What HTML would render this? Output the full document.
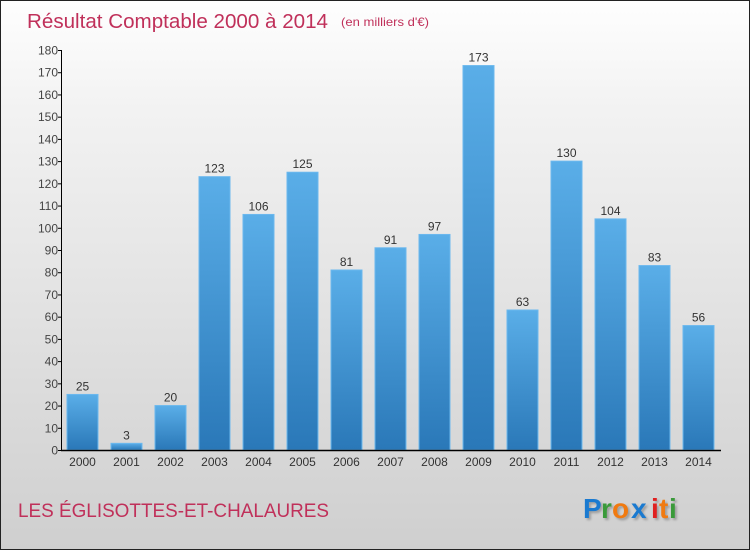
<!DOCTYPE html>
<html><head><meta charset="utf-8"><style>
html,body{margin:0;padding:0;}
body{width:750px;height:550px;overflow:hidden;}
#wrap{position:relative;width:748px;height:548px;border:1px solid #222;background:linear-gradient(#fefefe,#f2f2f2 20%,#cfcfcf);font-family:"Liberation Sans",sans-serif;}
</style></head><body>
<div id="wrap">
<svg id="chart" width="748" height="548" style="position:absolute;left:0;top:0">
<text x="26" y="27" font-size="20" fill="#c0305a" textLength="301" lengthAdjust="spacingAndGlyphs">Résultat Comptable 2000 à 2014</text>
<text x="340" y="25" font-size="12" fill="#c0305a" textLength="88" lengthAdjust="spacingAndGlyphs">(en milliers d'€)</text>
<text x="17" y="516" font-size="19" fill="#c0305a" textLength="311" lengthAdjust="spacingAndGlyphs">LES ÉGLISOTTES-ET-CHALAURES</text>
<g font-size="28" font-family="'Liberation Sans',sans-serif" font-weight="bold" style="filter:drop-shadow(2px 2px 1px rgba(0,0,0,0.25))">
<text x="582" y="517" fill="#1a7ad0">P</text><text x="600" y="517" fill="#3a9a3a">r</text><text x="611" y="517" fill="#f07a10">o</text><text x="630" y="517" fill="#1a7ad0">x</text><text x="650" y="517" fill="#e02020">i</text><text x="658" y="517" fill="#f07a10">t</text><text x="668" y="517" fill="#3a9a3a">i</text>
</g>
<defs><linearGradient id="bg" x1="0" y1="0" x2="0" y2="1"><stop offset="0" stop-color="#5aaee8"/><stop offset="1" stop-color="#2a78b8"/></linearGradient></defs>
<g id="bars"></g><g id="axes"></g>
</svg>
</div>
<script>
const years=["2000","2001","2002","2003","2004","2005","2006","2007","2008","2009","2010","2011","2012","2013","2014"];
const values=[25,3,20,123,106,125,81,91,97,173,63,130,104,83,56];
const yTicks=[0,10,20,30,40,50,60,70,80,90,100,110,120,130,140,150,160,170,180];
const NS="http://www.w3.org/2000/svg";
const y0=449,pxPer=400/180,x0=81.5,step=44,bw=31;
const yS=v=>y0-v*pxPer, xS=i=>x0+i*step;
const bars=document.getElementById('bars'),axes=document.getElementById('axes');
function mk(tag,attrs,parent){const e=document.createElementNS(NS,tag);for(const k in attrs)e.setAttribute(k,attrs[k]);parent.appendChild(e);return e;}
values.forEach((v,i)=>{
const r=mk('rect',{x:xS(i)-bw/2,y:yS(v),width:bw,height:y0-yS(v),fill:'url(#bg)',stroke:'#6bb8ee','stroke-width':1},bars);


const t=mk('text',{x:xS(i),y:yS(v)-4,'text-anchor':'middle','font-size':12,fill:'#333'},bars);
t.textContent=v;


const xl=mk('text',{x:xS(i),y:y0+16,'text-anchor':'middle','font-size':12,fill:'#333'},axes);
xl.textContent=years[i];


});
const ya=mk('line',{x1:60.5,y1:yS(180),x2:60.5,y2:y0,stroke:'#000'},axes);


const xa=mk('line',{x1:60,y1:y0+0.5,x2:720,y2:y0+0.5,stroke:'#000','stroke-width':1.5},axes);


yTicks.forEach(v=>{
mk('line',{x1:57,y1:yS(v)+0.5,x2:61,y2:yS(v)+0.5,stroke:'#000'},axes);
const t=mk('text',{x:57,y:yS(v)+4.5,'text-anchor':'end','font-size':12,fill:'#444'},axes);
t.textContent=v;


});
</script>
</body></html>
